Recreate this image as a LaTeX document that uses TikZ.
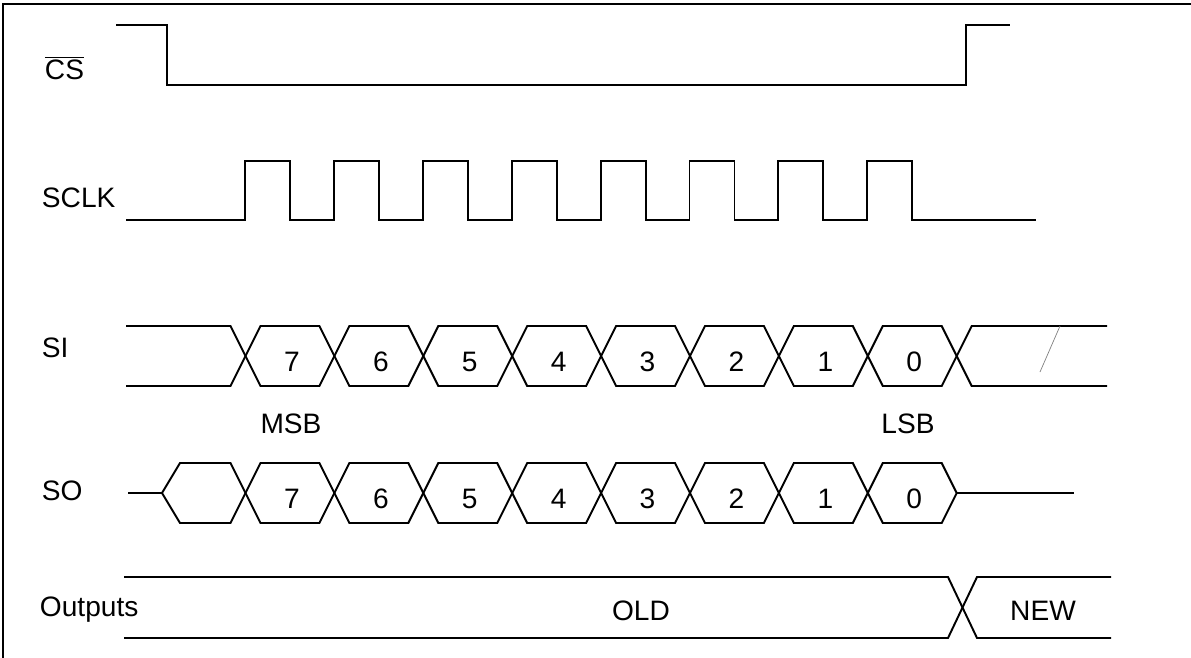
\documentclass[tikz,border=0pt]{standalone}
\usepackage{fontspec}
\setmainfont{Liberation Sans}
\begin{document}
\begin{tikzpicture}[x=0.02cm, y=-0.02cm, line width=1.1pt,
    lbl/.style={font=\fontsize{16}{19}\selectfont, inner sep=0pt},
    bitlbl/.style={lbl, anchor=center}]
        \useasboundingbox (0,0) rectangle (1191,657);

        % Cornice
        \draw (3,670) -- (3,4) -- (1200,4);

        % Etichette dei segnali
        \node[lbl, anchor=base west] (lblCS) at (44,79) {$\overline{\hbox{CS}}$};
        \node[lbl, anchor=base west] (lblSCLK) at (41,207) {SCLK};
        \node[lbl, anchor=base west] (lblSI) at (41,357) {SI};
        \node[lbl, anchor=base west] (lblSO) at (41,500) {SO};
        \node[lbl, anchor=base west] (lblOut) at (39,616) {Outputs};

        % CS
        \draw (116,25) -- (167,25) -- (167,85) -- (966,85) -- (966,25) -- (1010,25);

        % SCLK
        \draw (126,220) -- (245,220)
            \foreach \k in {0,...,7} {
                -- ({245+88.9*\k},220) -- ({245+88.9*\k},161)
                -- ({290+88.9*\k},161) -- ({290+88.9*\k},220)}
            -- (1036,220);

        % SI
        \draw (126,326) -- (230.5,326) -- (245.5,356) -- (230.5,386) -- (126,386);
        \foreach \k in {0,...,7} {
            \pgfmathsetmacro{\ca}{245.5+88.9*\k}
            \pgfmathsetmacro{\cb}{245.5+88.9*(\k+1)}
            \pgfmathtruncatemacro{\bit}{7-\k}
            \draw (\ca,356) -- (\ca+15,326) -- (\cb-15,326) -- (\cb,356)
                -- (\cb-15,386) -- (\ca+15,386) -- cycle;
            \node[bitlbl] (si\bit) at ({(\ca+\cb)/2+2},362) {\bit};
        }
        \draw (1107,326) -- (971.7,326) -- (956.7,356) -- (971.7,386) -- (1107,386);
        \draw[gray, line width=0.4pt] (1060,326) -- (1040,372);

        % SO
        \draw (128,493) -- (162,493) -- (180,463) -- (230.5,463) -- (245.5,493)
            -- (230.5,523) -- (180,523) -- (162,493);
        \foreach \k in {0,...,7} {
            \pgfmathsetmacro{\ca}{245.5+88.9*\k}
            \pgfmathsetmacro{\cb}{245.5+88.9*(\k+1)}
            \pgfmathtruncatemacro{\bit}{7-\k}
            \draw (\ca,493) -- (\ca+15,463) -- (\cb-15,463) -- (\cb,493)
                -- (\cb-15,523) -- (\ca+15,523) -- cycle;
            \node[bitlbl] (so\bit) at ({(\ca+\cb)/2+2},499) {\bit};
        }
        \draw (956.7,493) -- (1074,493);

        \node[bitlbl] (msb) at (291,424) {MSB};
        \node[bitlbl] (lsb) at (908,424) {LSB};

        % Outputs
        \draw (124,577) -- (948,577) -- (977,638) -- (1111,638);
        \draw (124,638) -- (948,638) -- (977,577) -- (1111,577);
        \node[bitlbl] (old) at (641,611) {OLD};
        \node[bitlbl] (new) at (1043,611) {NEW};
\end{tikzpicture}
\end{document}
